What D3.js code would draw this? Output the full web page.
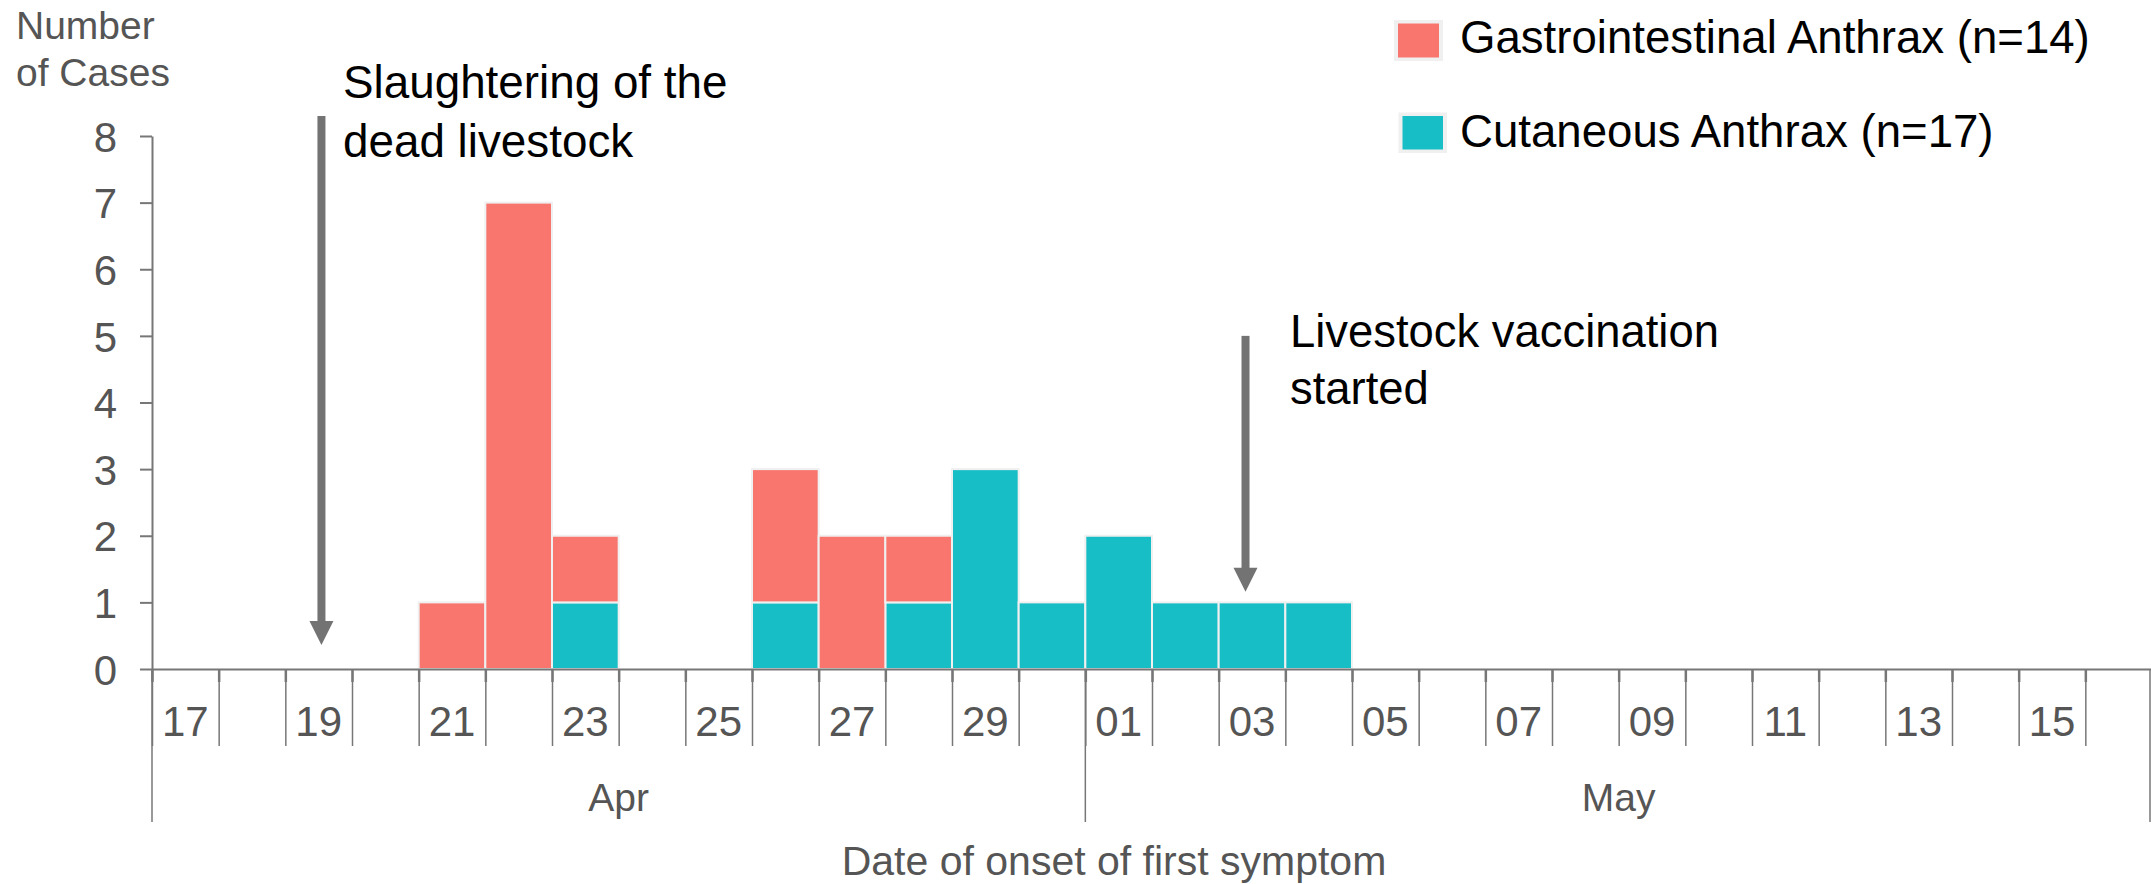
<!DOCTYPE html>
<html><head><meta charset="utf-8">
<script src="https://cdn.jsdelivr.net/npm/d3@7"></script>
<style>
body{margin:0;background:#fff;}
svg{display:block;}
text{font-family:"Liberation Sans",Arial,sans-serif;}
</style>
</head><body>
<svg id="chart" width="2151" height="884"></svg>
<script>
// ---- data ----
const onsetDates = ["2019-04-21","2019-04-22","2019-04-23","2019-04-26","2019-04-27","2019-04-28","2019-04-29","2019-04-30","2019-05-01","2019-05-02","2019-05-03","2019-05-04"];
const gastroCases    = [1,7,1,2,2,1,0,0,0,0,0,0];
const cutaneousCases = [0,0,1,1,0,1,3,1,2,1,1,1];
const seriesKeys   = ["cutaneous","gastro"];
const seriesNames  = ["Gastrointestinal Anthrax (n=14)","Cutaneous Anthrax (n=17)"];
const seriesColors = {gastro:"#F8766D", cutaneous:"#17BEC5"};
const yTickValues  = [0,1,2,3,4,5,6,7,8];
const axisStart = "2019-04-17", axisEnd = "2019-05-17";
const dayTickLabels = ["17","19","21","23","25","27","29","01","03","05","07","09","11","13","15"];
const monthBounds = ["2019-04-17","2019-05-01","2019-05-17"];
const monthLabels = ["Apr","May"];
const annotationDates = ["2019-04-19T13:00","2019-05-03T09:40"];
const annotationTop   = [8.3, 5.0];
const annotationTip   = [0.36, 1.16];
const annotationLines = [["Slaughtering of the","dead livestock"],["Livestock vaccination","started"]];

// ---- layout ----
const svg = d3.select("#chart");
const parse = d3.utcParse("%Y-%m-%d");
const parseT = d3.utcParse("%Y-%m-%dT%H:%M");
const x = d3.scaleUtc().domain([parse(axisStart), parse(axisEnd)]).range([152, 2152]);
const y = d3.scaleLinear().domain([0, 8]).range([669, 136]);
const axisColor = "#777";
const labelColor = "#555";

const rows = onsetDates.map((d,i)=>({date:parse(d), gastro:gastroCases[i], cutaneous:cutaneousCases[i]}));
const stacked = d3.stack().keys(seriesKeys)(rows);

// bars
svg.append("g").selectAll("g").data(stacked).join("g")
  .attr("fill", s => seriesColors[s.key])
  .selectAll("rect").data(s => s.filter(d => d[1] > d[0])).join("rect")
  .attr("x", d => x(d.data.date))
  .attr("width", d => x(d3.utcDay.offset(d.data.date,1)) - x(d.data.date))
  .attr("y", d => y(d[1]))
  .attr("height", d => y(d[0]) - y(d[1]))
  .attr("stroke", "#f0f0f0").attr("stroke-width", 2);

// y axis
const yAxis = svg.append("g").attr("transform","translate(152,0)")
  .call(d3.axisLeft(y).tickValues(yTickValues).tickSize(12).tickSizeOuter(0).tickPadding(23));
yAxis.select(".domain").attr("stroke", axisColor).attr("stroke-width", 2);
yAxis.selectAll(".tick line").attr("stroke", axisColor).attr("stroke-width", 2);
yAxis.selectAll(".tick text").attr("fill", labelColor).attr("font-size", 42)
  .attr("font-family", "Liberation Sans, Arial, sans-serif").attr("dy","0.36em");

// x axis (day ticks)
const days = d3.utcDay.range(parse(axisStart), parse(axisEnd));
const xAxis = svg.append("g").attr("transform","translate(0,669)")
  .call(d3.axisBottom(x).tickValues(days.concat([parse(axisEnd)])).tickSize(77).tickSizeOuter(0).tickFormat(""));
xAxis.select(".domain").attr("stroke", axisColor).attr("stroke-width", 2);
xAxis.selectAll(".tick line").attr("stroke", axisColor).attr("stroke-width", 1.5);
xAxis.selectAll(".tick").append("line").attr("y1",0).attr("y2",13).attr("stroke",axisColor).attr("stroke-width",2.5);

// day labels
const labelDays = days.filter((d,i) => i % 2 === 0);
svg.append("g").selectAll("text").data(labelDays).join("text")
  .attr("x", d => (x(d) + x(d3.utcDay.offset(d,1))) / 2)
  .attr("y", 736)
  .attr("text-anchor","middle")
  .attr("fill", labelColor).attr("font-size", 42)
  .text((d,i) => dayTickLabels[i]);

// month boundaries & labels
svg.append("g").selectAll("line").data(monthBounds).join("line")
  .attr("x1", d => Math.min(x(parse(d)), 2150)).attr("x2", d => Math.min(x(parse(d)), 2150))
  .attr("y1", 669).attr("y2", 822)
  .attr("stroke", axisColor).attr("stroke-width", 1.5);
svg.append("g").selectAll("text").data(monthLabels).join("text")
  .attr("x", (d,i) => (x(parse(monthBounds[i])) + x(parse(monthBounds[i+1]))) / 2)
  .attr("y", 811)
  .attr("text-anchor","middle")
  .attr("fill", labelColor).attr("font-size", 39)
  .text(d => d);

// axis titles
svg.append("text").attr("x", 1114).attr("y", 875).attr("text-anchor","middle")
  .attr("fill", labelColor).attr("font-size", 41).text("Date of onset of first symptom");
svg.append("text").attr("x", 16).attr("y", 39).attr("fill", labelColor).attr("font-size", 39).text("Number");
svg.append("text").attr("x", 16).attr("y", 86).attr("fill", labelColor).attr("font-size", 39).text("of Cases");

// annotations (arrows + text)
const arrowColor = "#737373";
const textX = [343, 1290];
const textY = [98, 347];
const lineGap = [59, 57];
const textSize = [45.8, 45.4];
annotationDates.forEach((ds, i) => {
  const ax = x(parseT(ds));
  const yTop = y(annotationTop[i]);
  const yTip = y(annotationTip[i]);
  const head = 24;
  svg.append("rect").attr("x", ax - 4).attr("y", yTop).attr("width", 8).attr("height", yTip - head - yTop + 1)
    .attr("fill", arrowColor);
  svg.append("path").attr("d", `M${ax-12},${yTip-head} L${ax+12},${yTip-head} L${ax},${yTip} Z`).attr("fill", arrowColor);
  const t = svg.append("text").attr("x", textX[i]).attr("y", textY[i]).attr("fill","#000").attr("font-size",textSize[i]);
  annotationLines[i].forEach((line, j) => {
    t.append("tspan").attr("x", textX[i]).attr("y", textY[i] + j*lineGap[i]).text(line);
  });
});

// legend
const legendKeys = ["gastro","cutaneous"];
const legendBox = [{x:1394,y:20,w:49,h:41},{x:1398.5,y:112.5,w:48.5,h:40.5}];
const legendTextY = [53, 147];
legendKeys.forEach((k,i) => {
  const b = legendBox[i];
  svg.append("rect").attr("x", b.x).attr("y", b.y).attr("width", b.w).attr("height", b.h).attr("fill", "#f0f0f0");
  svg.append("rect").attr("x", b.x+4).attr("y", b.y+3.5).attr("width", b.w-8).attr("height", b.h-7).attr("fill", seriesColors[k]);
  svg.append("text").attr("x", 1460).attr("y", legendTextY[i]).attr("fill","#000").attr("font-size",45.6).text(seriesNames[i]);
});
</script>
</body></html>
